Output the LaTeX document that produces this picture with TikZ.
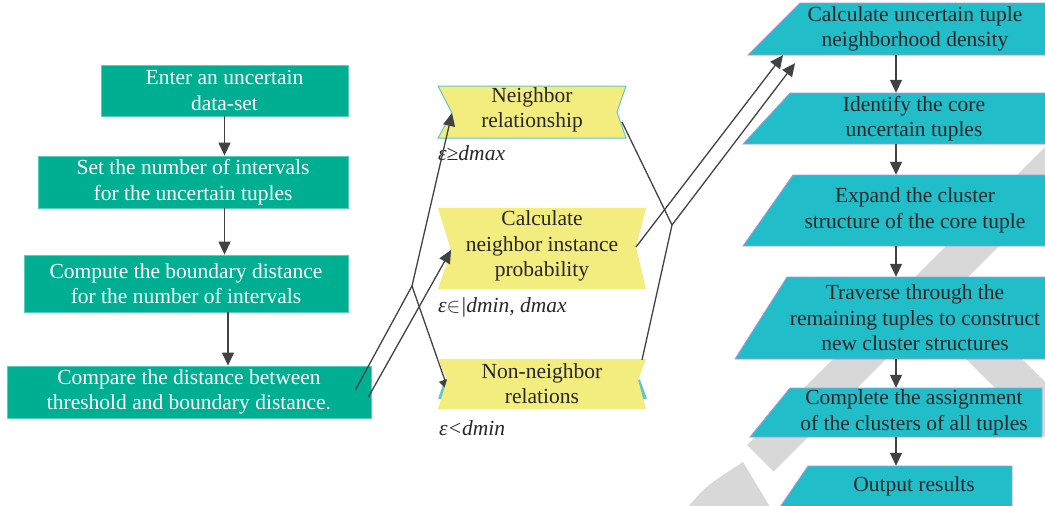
\documentclass[tikz,border=0pt]{standalone}
\usepackage{fontspec}
\setmainfont{Liberation Serif}
\usetikzlibrary{arrows.meta,calc}

\definecolor{boxgreen}{RGB}{0,174,145}
\definecolor{boxgreenedge}{RGB}{90,205,185}
\definecolor{boxcyan}{RGB}{33,189,200}
\definecolor{boxcyanedge}{RGB}{175,150,210}
\definecolor{ribbon}{RGB}{243,237,128}
\definecolor{ribbonedge}{RGB}{95,200,200}
\definecolor{wm}{RGB}{216,216,216}
\definecolor{conn}{RGB}{66,66,68}
\definecolor{ink}{RGB}{40,38,40}

\pgfdeclarelayer{bands}
\pgfdeclarelayer{under}
\pgfdeclarelayer{shapes}
\pgfsetlayers{bands,under,shapes,main}

\begin{document}
\begin{tikzpicture}[x=1pt,y=-1pt,
  txt/.style={font=\fontsize{21.5}{25.5}\selectfont, align=center, inner sep=0pt},
  gbox/.style={txt, fill=boxgreen, draw=boxgreenedge, line width=0.8pt, text=white},
  rtxt/.style={txt, text=ink},
  ytxt/.style={txt, text=ink},
  lbl/.style={font=\fontsize{21.5}{25.5}\selectfont\itshape, text=ink, inner sep=0pt, anchor=west},
  ribbonshape/.style={fill=ribbon},
  rshape/.style={fill=boxcyan, draw=boxcyanedge, line width=0.8pt},
  conn/.style={draw=conn, line width=1.3pt},
  arr/.style={conn, -{Triangle[length=13pt,width=12pt]}},
]
\useasboundingbox (0,0) rectangle (1045,506);

% watermark bands behind the right column
\begin{pgfonlayer}{bands}
  \begin{scope}
    \clip (0,0) rectangle (1045,506);
    \fill[wm] (747,445) -- (1192,0) -- (1245,0) -- (773.5,471.5) -- cycle;
    \fill[wm] (926,319) -- (954,291) -- (1110,447) -- (1110,503) -- cycle;
    \fill[wm] (688,507) .. controls (706,486) .. (743,462) -- (770,507) -- cycle;
  \end{scope}
\end{pgfonlayer}

% left column
\node[gbox, minimum width=247pt, minimum height=51pt] (g1) at (224.5,90.5) {Enter an uncertain\\data-set};
\node[gbox, minimum width=310pt, minimum height=52pt] (g2) at (193,182) {Set the number of intervals\\for the uncertain tuples};
\node[gbox, minimum width=324pt, minimum height=57pt] (g3) at (186,283.5) {Compute the boundary distance\\for the number of intervals};
\node[gbox, minimum width=364pt, minimum height=52pt] (g4) at (189,392) {Compare the distance between\\threshold and boundary distance.};

\draw[arr] (g1.south) -- (g1.south |- g2.north);
\draw[arr] (g2.south -| g1.south) -- (g3.north -| g1.south);
\coordinate (a3) at ($(g3.south)+(42,0)$);
\draw[arr] (a3) -- (a3 |- g4.north);

% middle ribbons: notch tips
\coordinate (y1l) at (452,113);
\coordinate (y1r) at (617,112);
\coordinate (y2l) at (451,250);
\coordinate (y2r) at (636,247);
\coordinate (y3l) at (447,380);
\coordinate (y3r) at (638,380);

\begin{pgfonlayer}{shapes}
  \filldraw[ribbonshape, draw=ribbonedge, line width=1pt]
    (438,86) -- (626,86) -- (y1r) -- (626,138) -- (438,138) -- (y1l) -- cycle;
  \fill[ribbonshape] (438,208) -- (646,208) -- (y2r) -- (646,289) -- (438,289) -- (y2l) -- cycle;
  \fill[ribbonshape] (438,359) -- (646,359) -- (y3r) -- (646,409) -- (438,409) -- (y3l) -- cycle;
\end{pgfonlayer}
\begin{pgfonlayer}{under}
  \draw[ribbonedge, line width=4pt] (y3l) -- (440,399);
  \draw[ribbonedge, line width=4pt] (y3r) -- (645,399);
\end{pgfonlayer}

\node[ytxt] (y1) at (532,110) {Neighbor\\relationship};
\node[ytxt] (y2) at (542,246) {Calculate\\neighbor instance\\probability};
\node[ytxt] (y3) at (542,383.5) {Non-neighbor\\relations};

\node[lbl] (l1) at (438,153) {ε≥dmax};
\node[lbl] (l2) at (438,307) {ε$\in$|dmin, dmax};
\node[lbl] (l3) at (439,428) {ε<dmin};

% right column
\begin{pgfonlayer}{shapes}
  \filldraw[rshape] (800,3) -- (1046,3) -- (1046,55) -- (748,55) -- cycle;
  \filldraw[rshape] (790,93) -- (1046,93) -- (1046,144) -- (743,144) -- cycle;
  \filldraw[rshape] (793,175) -- (1046,175) -- (1046,246) -- (743,246) -- cycle;
  \filldraw[rshape] (787,277) -- (1046,277) -- (1046,359) -- (735,359) -- cycle;
  \filldraw[rshape] (790,388) -- (1042,388) -- (1042,437) -- (750,437) -- cycle;
  \filldraw[rshape] (808,466) -- (1012,466) -- (1012,507) -- (780,507) -- cycle;
\end{pgfonlayer}

\node[rtxt, minimum height=52pt] (r1) at (915,29) {Calculate uncertain tuple\\neighborhood density};
\node[rtxt, minimum height=51pt] (r2) at (914,118.5) {Identify the core\\uncertain tuples};
\node[rtxt, minimum height=71pt] (r3) at (915,210.5) {Expand the cluster\\structure of the core tuple};
\node[rtxt, minimum height=82pt] (r4) at (915,318) {Traverse through the\\remaining tuples to construct\\new cluster structures};
\node[rtxt, minimum height=49pt] (r5) at (914,412.5) {Complete the assignment\\of the clusters of all tuples};
\node[rtxt, minimum height=40pt] (r6) at (914,486) {Output results};

\coordinate (rx) at (896,0);
\draw[arr] (r1.south -| rx) -- (r2.north -| rx);
\draw[arr] (r2.south -| rx) -- (r3.north -| rx);
\draw[arr] (r3.south -| rx) -- (r4.north -| rx);
\draw[arr] (r4.south -| rx) -- (r5.north -| rx);
\draw[arr] (r5.south -| rx) -- (r6.north -| rx);

% connectors between the columns
\coordinate (j1) at (412,286);
\coordinate (j2) at (672,225);
\coordinate (g4a) at ($(g4.east)+(-16,-2)$);
\coordinate (g4b) at ($(g4.east)+(-3,5)$);
\coordinate (y1s) at ($(y1r)+(5,10)$);
\coordinate (y3t) at (642,360);
\coordinate (y3hid) at (449,392);
\coordinate (r1a) at ($(r1.south)+(-132,0)$);
\coordinate (r1b) at ($(r1.south)+(-120,8)$);

\draw[conn] (g4a) -- (j1);
\draw[arr] (j1) -- (y1l);
\begin{pgfonlayer}{under}
  \draw[arr] (j1) -- (y3hid);
\end{pgfonlayer}
\draw[arr] (g4b) -- (y2l);

\draw[conn] (y1s) -- (j2);
\draw[conn] (j2) -- (y3t);
\draw[arr] (j2) -- (r1b);
\draw[arr] (y2r) -- (r1a);
\end{tikzpicture}
\end{document}
